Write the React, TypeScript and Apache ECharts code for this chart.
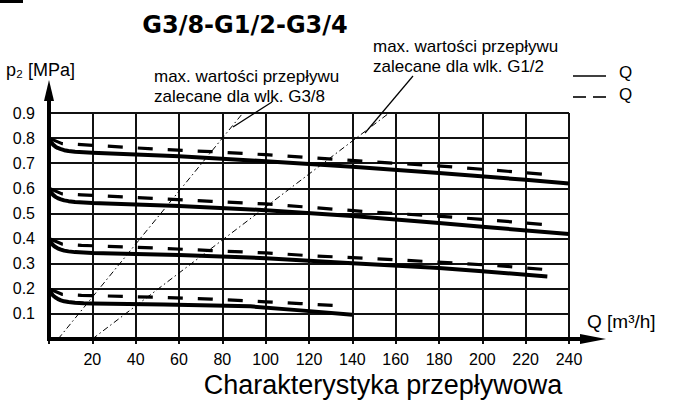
import React, { useEffect, useRef } from "react";
import * as echarts from "echarts";

// ---- data ----
const xTicks = [0, 20, 40, 60, 80, 100, 120, 140, 160, 180, 200, 220, 240];
const yTicks = [0, 0.1, 0.2, 0.3, 0.4, 0.5, 0.6, 0.7, 0.8, 0.9];

const solid08: [number, number][] = [
  [0, 0.8], [0.5, 0.791], [1, 0.784], [1.5, 0.778], [2, 0.773], [3, 0.766], [4, 0.761],
  [5.5, 0.756], [7, 0.752], [9, 0.749], [12, 0.746], [16, 0.744], [20, 0.742],
  [60, 0.728], [100, 0.708], [140, 0.686], [180, 0.661], [220, 0.634], [240, 0.619],
];
const dashed08: [number, number][] = [
  [0, 0.8], [6, 0.778], [15, 0.774], [50, 0.756], [75, 0.746], [100, 0.734],
  [145, 0.708], [187, 0.685], [230, 0.655],
];
const solid06: [number, number][] = [
  [0, 0.6], [0.5, 0.591], [1, 0.584], [1.5, 0.578], [2, 0.573], [3, 0.566], [4, 0.561],
  [5.5, 0.556], [7, 0.552], [9, 0.549], [12, 0.546], [16, 0.544], [20, 0.542],
  [60, 0.530], [100, 0.513], [140, 0.490], [180, 0.462], [200, 0.447], [240, 0.418],
];
const dashed06: [number, number][] = [
  [0, 0.6], [6, 0.578], [15, 0.574], [50, 0.559], [75, 0.548], [100, 0.538],
  [145, 0.508], [187, 0.485], [230, 0.455],
];
const solid04: [number, number][] = [
  [0, 0.4], [0.5, 0.391], [1, 0.384], [1.5, 0.378], [2, 0.373], [3, 0.366], [4, 0.361],
  [5.5, 0.356], [7, 0.352], [9, 0.349], [12, 0.346], [16, 0.344], [20, 0.342],
  [60, 0.335], [100, 0.322], [140, 0.302], [180, 0.283], [200, 0.270], [230, 0.249],
];
const dashed04: [number, number][] = [
  [0, 0.4], [6, 0.378], [15, 0.373], [50, 0.362], [75, 0.352], [100, 0.343],
  [120, 0.332], [145, 0.322], [187, 0.303], [210, 0.290], [230, 0.276],
];
const solid02: [number, number][] = [
  [0, 0.2], [0.5, 0.191], [1, 0.184], [1.5, 0.177], [2, 0.172], [3, 0.165], [4, 0.160],
  [5.5, 0.154], [7, 0.150], [9, 0.147], [12, 0.144], [16, 0.142], [20, 0.141],
  [53, 0.137], [93, 0.130], [116, 0.114], [140, 0.097],
];
const dashed02: [number, number][] = [
  [0, 0.2], [6, 0.178], [15, 0.174], [50, 0.166], [75, 0.159], [100, 0.148],
  [116, 0.141], [133, 0.133],
];
const maxG38: [number, number][] = [[4.2, 0], [89.5, 0.9]];
const maxG12: [number, number][] = [[20, 0], [157, 0.9]];

const titleText = "G3/8-G1/2-G3/4";
const yName = "p₂ [MPa]";
const xName = "Q [m³/h]";
const caption = "Charakterystyka przepływowa";
const noteG38 = "max. wartości przepływu\nzalecane dla wlk. G3/8";
const noteG12 = "max. wartości przepływu\nzalecane dla wlk. G1/2";
const legendLabels = ["Q", "Q"];

const FONT = "'Liberation Sans', Arial, 'DejaVu Sans', sans-serif";

export default function App() {
  const ref = useRef<HTMLDivElement>(null);
  useEffect(() => {
    document.body.style.margin = "0";
    const chart = echarts.init(ref.current!, null, { renderer: "svg" });
    const solidStyle = { color: "#000", width: 4 };
    const dashedStyle = { color: "#000", width: 3.2, type: [15, 15] as any };
    const dashDot = { color: "#000", width: 1, type: [6, 3, 1.5, 3] as any };
    const mk = (name: string, data: [number, number][], ls: any) => ({
      name,
      type: "line",
      data,
      showSymbol: false,
      symbol: "none",
      smooth: false,
      lineStyle: { ...ls, join: "round", cap: "butt" },
      z: 5,
    });
    const txt = (text: string, x: number, y: number, size: number, extra: any = {}) => ({
      type: "text",
      x,
      y,
      z: 20,
      style: {
        text,
        fill: "#000",
        font: `${extra.weight || "normal"} ${size}px ${extra.family || FONT}`,
        lineHeight: extra.lineHeight,
        textAlign: extra.align || "left",
        textVerticalAlign: "middle",
        verticalAlign: "middle",
      },
    });
    const ln = (x1: number, y1: number, x2: number, y2: number, w: number) => ({
      type: "line",
      z: 20,
      shape: { x1, y1, x2, y2 },
      style: { stroke: "#000", lineWidth: w },
    });
    chart.setOption({
      animation: false,
      backgroundColor: "#fff",
      grid: { left: 49, top: 113, width: 520, height: 226, containLabel: false },
      xAxis: {
        type: "value",
        min: xTicks[0],
        max: xTicks[xTicks.length - 1],
        interval: xTicks[1] - xTicks[0],
        axisLine: { show: false },
        axisTick: { show: true, length: 5, lineStyle: { color: "#111", width: 2 } },
        axisLabel: {
          margin: 12,
          color: "#000",
          fontSize: 16,
          fontFamily: FONT,
          formatter: (v: number) => (v === 0 ? "" : String(v)),
        },
        splitLine: { show: true, lineStyle: { color: "#111", width: 2 } },
      },
      yAxis: {
        type: "value",
        min: yTicks[0],
        max: yTicks[yTicks.length - 1],
        interval: 0.1,
        axisLine: { show: false },
        axisTick: { show: false },
        axisLabel: {
          margin: 14,
          color: "#000",
          fontSize: 16,
          fontFamily: FONT,
          formatter: (v: number) => (v === 0 ? "" : v.toFixed(1)),
        },
        splitLine: { show: true, lineStyle: { color: "#111", width: 2 } },
      },
      series: [
        mk("Q solid 0.8", solid08, solidStyle),
        mk("Q dashed 0.8", dashed08, dashedStyle),
        mk("Q solid 0.6", solid06, solidStyle),
        mk("Q dashed 0.6", dashed06, dashedStyle),
        mk("Q solid 0.4", solid04, solidStyle),
        mk("Q dashed 0.4", dashed04, dashedStyle),
        mk("Q solid 0.2", solid02, solidStyle),
        mk("Q dashed 0.2", dashed02, dashedStyle),
        mk("max G3/8", maxG38, dashDot),
        mk("max G1/2", maxG12, dashDot),
      ],
      graphic: [
        { type: "rect", z: 20, shape: { x: 0, y: 0, width: 23, height: 3 }, style: { fill: "#000" } },
        // axes with arrows
        ln(49, 341, 49, 98, 4),
        { type: "polygon", z: 20, shape: { points: [[49, 80], [44, 101], [54, 101]] }, style: { fill: "#000" } },
        ln(47, 339, 582, 339, 4),
        { type: "polygon", z: 20, shape: { points: [[606, 339], [580, 334], [580, 344]] }, style: { fill: "#000" } },
        // title & names
        txt(titleText, 245, 25, 24, { weight: "bold", family: "'DejaVu Sans', sans-serif", align: "center" }),
        txt(yName, 6, 70, 18),
        txt(xName, 587, 321, 19),
        txt(caption, 383, 385, 27, { align: "center" }),
        // notes
        txt(noteG38, 154, 86, 17, { lineHeight: 20 }),
        txt(noteG12, 373, 56, 17, { lineHeight: 20 }),
        ln(272, 102, 233, 127, 1.2),
        ln(413, 76, 365, 133, 1.2),
        // legend
        ln(573, 76, 606, 76, 1.6),
        ln(573, 97, 586, 97, 1.6),
        ln(593, 97, 606, 97, 1.6),
        txt(legendLabels[0], 619, 72, 17),
        txt(legendLabels[1], 619, 94, 17),
      ],
    });
    return () => chart.dispose();
  }, []);
  return (
    <div
      ref={ref}
      style={{ position: "absolute", left: 0, top: 0, width: 675, height: 403 }}
    />
  );
}
